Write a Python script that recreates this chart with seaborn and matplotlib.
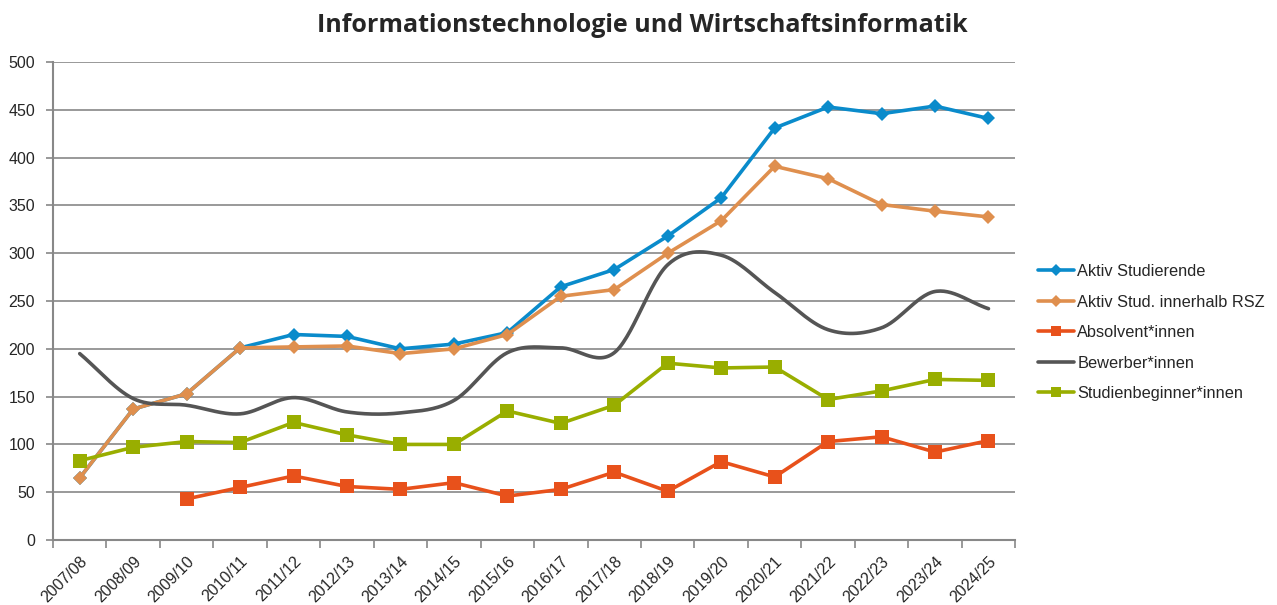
import numpy as np
import pandas as pd
import matplotlib
matplotlib.use("Agg")
import matplotlib.pyplot as plt
import seaborn as sns

# Daten
semester = ["2007/08", "2008/09", "2009/10", "2010/11", "2011/12", "2012/13",
            "2013/14", "2014/15", "2015/16", "2016/17", "2017/18", "2018/19",
            "2019/20", "2020/21", "2021/22", "2022/23", "2023/24", "2024/25"]

aktiv = [65, 137, 153, 201, 215, 213, 200, 205, 217, 265, 283, 318,
         358, 431, 453, 446, 454, 441]
aktiv_rsz = [65, 137, 153, 201, 202, 203, 195, 200, 215, 255, 262, 300,
             334, 391, 378, 351, 344, 338]
absolventen = [np.nan, np.nan, 43, 55, 67, 56, 53, 60, 46, 53, 71, 51,
               82, 66, 103, 108, 92, 104]
bewerber = [195, 148, 141, 132, 149, 134, 133, 146, 196, 201, 196, 288,
            298, 259, 220, 222, 260, 242]
beginner = [83, 97, 103, 102, 123, 110, 100, 100, 135, 122, 141, 185,
            180, 181, 147, 156, 168, 167]

farben = {
    "Aktiv Studierende": "#0A8BCB",
    "Aktiv Stud. innerhalb RSZ": "#DF8F4E",
    "Absolvent*innen": "#E8511B",
    "Bewerber*innen": "#555555",
    "Studienbeginner*innen": "#99AE00",
}

sns.set_style("white")
plt.rcParams["font.family"] = ["Liberation Sans", "DejaVu Sans"]

fig = plt.figure(figsize=(12.77, 6.05), dpi=100)
ax = fig.add_axes([0.0415, 0.1074, 0.7535, 0.79])

x = np.arange(len(semester))


def catmull_rom(xs, ys, n=30):
    # geglaettete Linie wie in Excel
    px, py = [], []
    xs = np.asarray(xs, float)
    ys = np.asarray(ys, float)
    for i in range(len(xs) - 1):
        p0 = i - 1 if i > 0 else i
        p3 = i + 2 if i + 2 < len(xs) else i + 1
        t = np.linspace(0, 1, n, endpoint=False)
        for arr, out in ((xs, px), (ys, py)):
            a0, a1, a2, a3 = arr[p0], arr[i], arr[i + 1], arr[p3]
            m1 = (a2 - a0) / (2 if p0 != i else 1)
            m2 = (a3 - a1) / (2 if p3 != i + 1 else 1)
            h00 = 2 * t**3 - 3 * t**2 + 1
            h10 = t**3 - 2 * t**2 + t
            h01 = -2 * t**3 + 3 * t**2
            h11 = t**3 - t**2
            out.extend(h00 * a1 + h10 * m1 + h01 * a2 + h11 * m2)
    px.append(xs[-1])
    py.append(ys[-1])
    return np.array(px), np.array(py)


lw = 2.6
sns.lineplot(x=x, y=aktiv, ax=ax, color=farben["Aktiv Studierende"], lw=lw,
             marker="D", markersize=7.5, markeredgewidth=0,
             label="Aktiv Studierende")
sns.lineplot(x=x, y=aktiv_rsz, ax=ax, color=farben["Aktiv Stud. innerhalb RSZ"], lw=lw,
             marker="D", markersize=7.5, markeredgewidth=0,
             label="Aktiv Stud. innerhalb RSZ")
sns.lineplot(x=x, y=absolventen, ax=ax, color=farben["Absolvent*innen"], lw=lw,
             marker="s", markersize=10, markeredgewidth=0,
             label="Absolvent*innen")
bx, by = catmull_rom(x, bewerber)
sns.lineplot(x=bx, y=by, ax=ax, color=farben["Bewerber*innen"], lw=lw,
             sort=False, estimator=None, label="Bewerber*innen")
sns.lineplot(x=x, y=beginner, ax=ax, color=farben["Studienbeginner*innen"], lw=lw,
             marker="s", markersize=10, markeredgewidth=0,
             label="Studienbeginner*innen")

ax.set_xlim(-0.5, len(semester) - 0.5)
ax.set_ylim(0, 500)
ax.set_yticks(range(0, 501, 50))
ax.yaxis.grid(True, color="#888888", lw=1.2)
ax.xaxis.grid(False)
ax.set_axisbelow(True)

ax.set_xticks(x)
ax.set_xticklabels(semester, rotation=45, ha="right", rotation_mode="anchor")
ax.set_xticks(np.arange(-0.5, len(semester)), minor=True)
ax.tick_params(axis="x", which="major", length=0, pad=10, labelsize=11.5)
ax.tick_params(axis="x", which="minor", length=6, color="#888888", width=1.2,
               direction="out", bottom=True)
ax.tick_params(axis="y", length=5, color="#888888", width=1.2, direction="out",
               left=True, labelsize=11.5, pad=8)

for side in ["top", "right"]:
    ax.spines[side].set_visible(False)
for side in ["left", "bottom"]:
    ax.spines[side].set_color("#888888")
    ax.spines[side].set_linewidth(1.5)

ax.set_xlabel("")
ax.set_ylabel("")

leg = ax.legend(loc="center left", bbox_to_anchor=(1.017, 0.434), frameon=False,
                fontsize=11.8, handlelength=2.2, handletextpad=0.2,
                labelspacing=0.95, borderaxespad=0)
for h in leg.legend_handles:
    h.set_markersize(h.get_markersize() * 0.75)

fig.suptitle("Informationstechnologie und Wirtschaftsinformatik",
             x=0.503, y=0.978, fontsize=18, fontweight="bold",
             family=["Open Sans", "DejaVu Sans"])

fig.savefig("out.png", dpi=100)
